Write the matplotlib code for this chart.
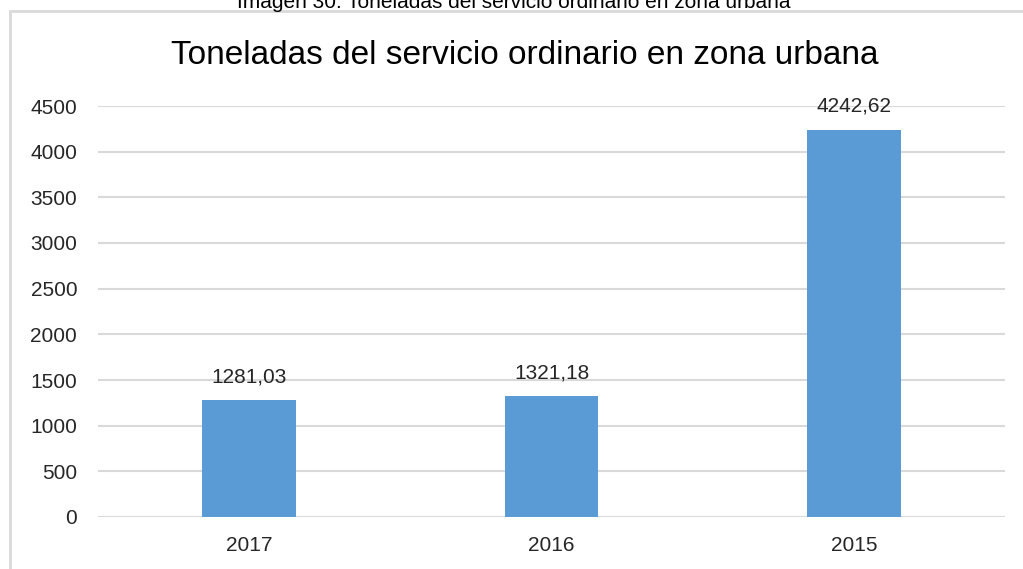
import matplotlib.pyplot as plt
from matplotlib.patches import Rectangle

# Data
years = ["2017", "2016", "2015"]
toneladas = [1281.03, 1321.18, 4242.62]
etiquetas = ["1281,03", "1321,18", "4242,62"]
y_ticks = [0, 500, 1000, 1500, 2000, 2500, 3000, 3500, 4000, 4500]

plt.rcParams['font.family'] = ['Liberation Sans', 'DejaVu Sans']

fig = plt.figure(figsize=(10.23, 5.69), dpi=100)

# caption above the chart (cut off at the top, as in the source image)
fig.text(0.502, 1.0 - 8 / 569, "Imagen 30: Toneladas del servicio ordinario en zona urbana",
         ha="center", va="baseline", fontsize=15, color="black")

# chart border
fig.patches.append(Rectangle((10 / 1023, -0.1), 1.2, 1.0 - 11 / 569 + 0.1,
                             transform=fig.transFigure, fill=False,
                             edgecolor="#d9d9d9", linewidth=2))

ax = fig.add_axes([98 / 1023, 52 / 569, (1005 - 98) / 1023, (517 - 106) / 569])

x = range(len(years))
ax.bar(x, toneladas, width=0.31, color="#5b9bd5", zorder=3)

for i, v in enumerate(toneladas):
    ax.text(i, v + 150, etiquetas[i], ha="center", va="bottom",
            fontsize=15, color="#262626", zorder=4)

ax.set_xlim(-0.5, 2.5)
ax.set_ylim(0, 4500)
ax.set_yticks(y_ticks)
ax.set_xticks(list(x))
ax.set_xticklabels(years)
ax.tick_params(axis="both", length=0, labelsize=15, colors="#262626")
ax.tick_params(axis="y", pad=15)
ax.tick_params(axis="x", pad=14)

ax.grid(axis="y", color="#d9d9d9", linewidth=1.5, zorder=0)
for s in ax.spines.values():
    s.set_visible(False)

fig.text(525 / 1023, 1 - 56 / 569, "Toneladas del servicio ordinario en zona urbana",
         ha="center", va="center", fontsize=24, color="black")

fig.savefig("out.png", dpi=100)
